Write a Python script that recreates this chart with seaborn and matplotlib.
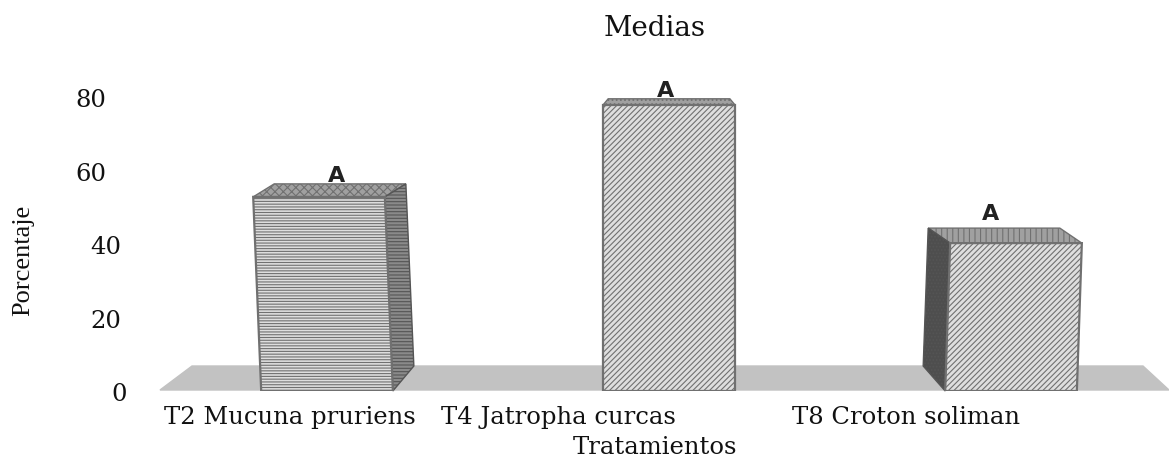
import matplotlib
matplotlib.use("Agg")
import matplotlib.pyplot as plt
import seaborn as sns
from matplotlib.patches import Polygon
from matplotlib.transforms import Affine2D, ScaledTranslation

categories = ["T2 Mucuna pruriens", "T4 Jatropha curcas", "T8 Croton soliman"]
values = [52.9, 78.0, 40.3]
letters = ["A", "A", "A"]
y_ticks = [0, 20, 40, 60, 80]

W, H = 1169, 464
sns.set_style("white")
plt.rcParams["font.family"] = ["DejaVu Serif"]
plt.rcParams["hatch.linewidth"] = 0.8

fig = plt.figure(figsize=(W / 100, H / 100), dpi=100)
ax = fig.add_axes([155 / W, (H - 392) / H, 1000 / W, 302 / H])

sns.barplot(x=categories, y=values, ax=ax, width=0.385, color="#dedede",
            edgecolor="#707070", linewidth=1.6, zorder=3)
ax.set_xlim(-0.503, 2.421)
ax.set_ylim(0, 82.3)
sns.despine(ax=ax, left=True, bottom=True)
ax.patch.set_alpha(0)
ax.tick_params(length=0)

px = ax.transData.inverted().get_matrix()
sx, sy = abs(px[0, 0]), abs(px[1, 1])  # data units per pixel

bars = list(ax.containers[0])

# floor of the 3D box, in pixels of the figure
floor = Polygon([(160 / W, (H - 391) / H), (192 / W, (H - 367) / H),
                 (1143 / W, (H - 367) / H), (1169 / W, (H - 391) / H)],
                transform=fig.transFigure, color="#c2c2c2", zorder=0, clip_on=False)
ax.add_patch(floor)

hatches = ["------", "//////", "//////"]
lean = [-8, 0, 5]           # px the top of each front face leans by
side = [1, 0, -1]           # side face on the right / none / on the left
depth_x = [21, 5, 22]
depth_y = [13, 6, 15]
side_hatch = ["-----", None, "....."]
top_hatch = ["xxxx", "....", "|||"]
letter_gap = [0, 0, 6]

for i, bar in enumerate(bars):
    x0, w, h = bar.get_x(), bar.get_width(), bar.get_height()
    k = lean[i] * sx / h
    bar.set_hatch(hatches[i])
    bar.set_transform(Affine2D([[1, k, 0], [0, 1, 0], [0, 0, 1]]) + ax.transData)
    x1 = x0 + w
    tl = x0 + lean[i] * sx
    tr = x1 + lean[i] * sx
    dx, dy = depth_x[i] * sx, depth_y[i] * sy

    # top face goes inwards for the flat middle bar, outwards for the others
    if side[i] > 0:
        top = [(tl, h), (tl + dx, h + dy), (tr + dx, h + dy), (tr, h)]
    elif side[i] < 0:
        top = [(tl, h), (tl - dx, h + dy), (tr - dx, h + dy), (tr, h)]
    else:
        top = [(tl, h), (tl + dx, h + dy), (tr - dx, h + dy), (tr, h)]
    ax.add_patch(Polygon(top, closed=True, facecolor="#a0a0a0", edgecolor="#707070",
                         hatch=top_hatch[i], linewidth=1, zorder=2, clip_on=False))

    if side[i] != 0:
        edge_b = x1 if side[i] > 0 else x0
        edge_t = tr if side[i] > 0 else tl
        foot = 25 * sy
        face = [(edge_b, 0), (edge_b + side[i] * dx, foot),
                (edge_t + side[i] * dx, h + dy), (edge_t, h)]
        shade = "#8a8a8a" if side[i] > 0 else "#4e4e4e"
        ax.add_patch(Polygon(face, closed=True, facecolor=shade, edgecolor="#555555",
                             hatch=side_hatch[i], linewidth=1, zorder=2, clip_on=False))

    # letter sits on the middle of the top face
    ax.text(tl + w / 2 + side[i] * dx - 4 * sx, h + dy + (letter_gap[i] - 1) * sy, letters[i],
            family="DejaVu Sans", ha="center", va="bottom", fontsize=16, fontweight="bold",
            color="#222222", zorder=4)

ax.set_yticks(y_ticks)
ax.set_yticklabels([str(t) for t in y_ticks], fontsize=17.5, color="#111111")
ax.tick_params(axis="y", pad=24)
for lab, off in zip(ax.get_yticklabels(), [5, 0, 0, -15, -15]):
    lab.set_transform(lab.get_transform() + ScaledTranslation(off / 100, 0, fig.dpi_scale_trans))

ax.set_xticks(range(len(categories)))
ax.set_xticklabels(categories, fontsize=17.5, color="#111111")
ax.tick_params(axis="x", pad=10)
for lab, off in zip(ax.get_xticklabels(), [-37, -111, -105]):
    lab.set_transform(lab.get_transform() + ScaledTranslation(off / 100, 0, fig.dpi_scale_trans))

ax.set_xlabel("Tratamientos", fontsize=17.5, color="#111111", labelpad=5)
ax.set_ylabel("")
fig.text(23 / W, (H - 260) / H, "Porcentaje", rotation=90, family="Liberation Serif",
         fontsize=19, ha="center", va="center", color="#111111")
fig.text(655 / W, (H - 28) / H, "Medias", fontsize=20, ha="center", va="center", color="#111111")

fig.savefig("out.png", dpi=100)
